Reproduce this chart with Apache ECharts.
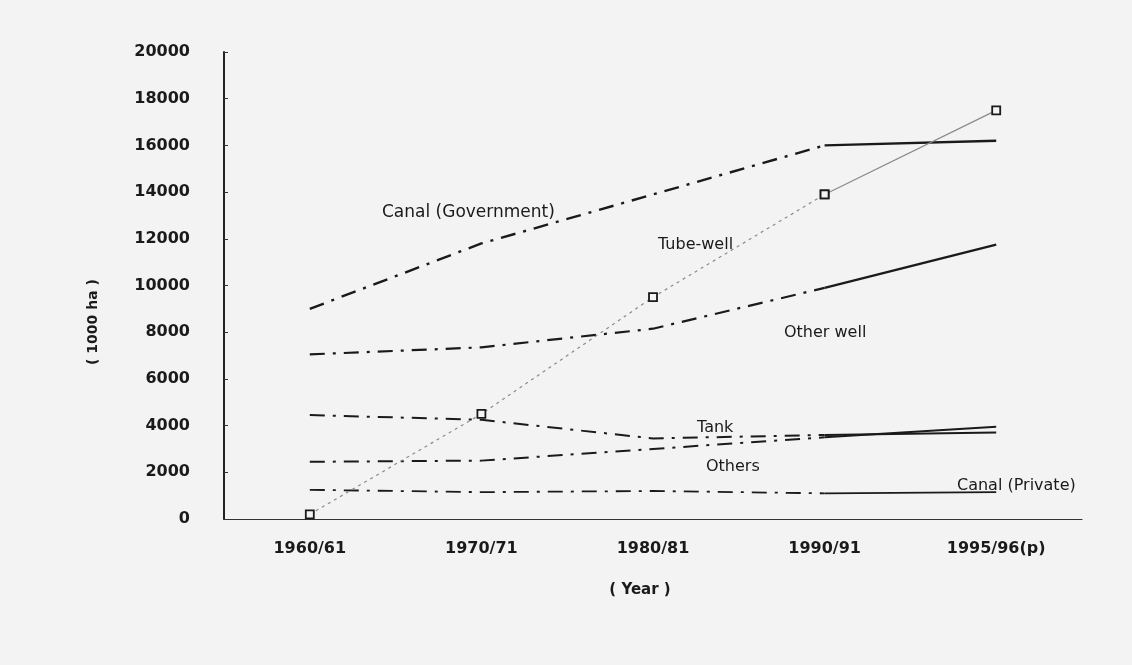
<!DOCTYPE html>
<html>
<head>
<meta charset="utf-8">
<script src="https://cdn.jsdelivr.net/npm/echarts@6/dist/echarts.min.js"></script>
<style>
  html, body { margin: 0; padding: 0; background: #f6f6f6; }
  #chart { width: 1132px; height: 665px; }
</style>
</head>
<body>
<div id="chart"></div>
<script>
const categories = ['1960/61', '1970/71', '1980/81', '1990/91', '1995/96(p)'];
const yTicks = [0, 2000, 4000, 6000, 8000, 10000, 12000, 14000, 16000, 18000, 20000];

const canalGov = [9000, 11800, 13900, 16000, 16200];
const tubeWell = [200, 4500, 9500, 13900, 17500];
const otherWell = [7050, 7350, 8150, 9900, 11750];
const tank = [4450, 4250, 3450, 3600, 3700];
const others = [2450, 2500, 3000, 3500, 3950];
const canalPrivate = [1250, 1150, 1200, 1100, 1150];

const FONT = '"DejaVu Sans", "Noto Sans", sans-serif';
const dashDot = [15, 8, 3, 8];

// first part (1960/61 - 1990/91) is dash-dot, last step to 1995/96 is solid
function head(arr) { return arr.map((v, i) => (i <= 3 ? v : '-')); }
function tail(arr) { return arr.map((v, i) => (i >= 3 ? v : '-')); }

function pair(name, arr, width) {
  return [
    {
      name: name, type: 'line', data: head(arr), symbol: 'none',
      lineStyle: { color: '#1a1a1a', width: width, type: dashDot }
    },
    {
      name: name, type: 'line', data: tail(arr), symbol: 'none',
      lineStyle: { color: '#1a1a1a', width: width, type: 'solid' }
    }
  ];
}

const tubeMarker = {
  symbol: 'rect', symbolSize: 8, showSymbol: true,
  itemStyle: { color: '#f4f4f4', borderColor: '#1a1a1a', borderWidth: 1.8 }
};

function note(text, x, y, size) {
  return {
    type: 'text', x: x, y: y,
    style: { text: text, fill: '#1a1a1a', font: (size || 15) + 'px ' + FONT, verticalAlign: 'middle' }
  };
}

let chart = echarts.init(document.getElementById('chart'));
let option = {
  backgroundColor: '#f3f3f3',
  animation: false,
  grid: { left: 224, right: 50, top: 52, bottom: 146, containLabel: false },
  xAxis: {
    type: 'category',
    data: categories,
    boundaryGap: true,
    axisLine: { lineStyle: { color: '#333', width: 1.2 } },
    axisTick: { inside: true, length: 4, lineStyle: { color: '#333' } },
    axisLabel: { margin: 22, color: '#1a1a1a', fontSize: 16, fontWeight: 'bold', fontFamily: FONT }
  },
  yAxis: {
    type: 'value',
    min: yTicks[0],
    max: yTicks[yTicks.length - 1],
    interval: 2000,
    splitLine: { show: false },
    axisLine: { show: true, lineStyle: { color: '#222', width: 2 } },
    axisTick: { show: true, inside: true, length: 4, lineStyle: { color: '#333' } },
    axisLabel: {
      margin: 34, color: '#1a1a1a', fontSize: 16, fontWeight: 'bold', fontFamily: FONT,
      formatter: (v) => String(v)
    }
  },
  graphic: [
    {
      type: 'text', x: 93, y: 322, rotation: Math.PI / 2,
      style: { text: '( 1000 ha )', fill: '#1a1a1a', font: 'bold 14px ' + FONT, align: 'center', verticalAlign: 'middle' }
    },
    {
      type: 'text', x: 640, y: 590,
      style: { text: '( Year )', fill: '#1a1a1a', font: 'bold 15px ' + FONT, align: 'center', verticalAlign: 'middle' }
    },
    note('Canal (Government)', 382, 213, 17),
    note('Tube-well', 658, 245, 16),
    note('Other well', 784, 333, 16),
    note('Tank', 697, 428, 16),
    note('Others', 706, 467, 16),
    note('Canal (Private)', 957, 486, 16)
  ],
  series: [
    ...pair('Canal (Government)', canalGov, 2.4),
    ...pair('Other well', otherWell, 2.2),
    ...pair('Tank', tank, 2),
    ...pair('Others', others, 2),
    ...pair('Canal (Private)', canalPrivate, 1.8),
    {
      name: 'Tube-well', type: 'line', data: head(tubeWell), z: 5,
      lineStyle: { color: '#8a8a8a', width: 1.2, type: [3, 4] },
      ...tubeMarker
    },
    {
      name: 'Tube-well', type: 'line', data: tail(tubeWell), z: 5,
      lineStyle: { color: '#8a8a8a', width: 1.2, type: 'solid' },
      ...tubeMarker
    }
  ]
};
chart.setOption(option);
</script>
</body>
</html>
